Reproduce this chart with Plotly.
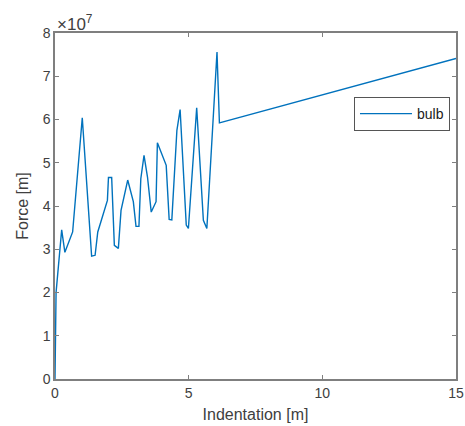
import plotly.graph_objects as go

# Indentation [m] and force (in units of 1e7) along the bulb curve
indentation = [0.0, 0.04, 0.25, 0.37, 0.66, 1.02, 1.37, 1.50, 1.60, 1.96, 2.00, 2.12,
               2.22, 2.37, 2.47, 2.72, 2.93, 3.03, 3.14, 3.21, 3.33, 3.46, 3.60,
               3.78, 3.83, 4.16, 4.27, 4.37, 4.56, 4.68, 4.91, 4.99, 5.30, 5.55,
               5.68, 6.06, 6.15, 15.0]
force_e7 = [0.0, 2.0, 3.45, 2.93, 3.40, 6.04, 2.84, 2.86, 3.40, 4.13, 4.66, 4.66,
            3.09, 3.02, 3.90, 4.60, 4.10, 3.53, 3.53, 4.63, 5.17, 4.67, 3.86,
            4.10, 5.46, 4.94, 3.69, 3.68, 5.75, 6.23, 3.56, 3.48, 6.27, 3.67,
            3.48, 7.56, 5.92, 7.41]
series_name = "bulb"

x_ticks = [0, 5, 10, 15]
y_ticks = [0, 1, 2, 3, 4, 5, 6, 7, 8]
scale = 1e7

force = [v * scale for v in force_e7]

axis_color = "#7f7f7f"
text_color = "#404040"
font_family = "Liberation Sans, Arial, sans-serif"

fig = go.Figure()
fig.add_trace(go.Scatter(
    x=indentation, y=force, mode="lines", name=series_name,
    line=dict(color="#0072BD", width=1.4),
))

fig.update_layout(
    width=465, height=426,
    margin=dict(l=55, r=9, t=33, b=47, autoexpand=False),
    paper_bgcolor="white", plot_bgcolor="white",
    font=dict(family=font_family, size=14, color=text_color),
    showlegend=True,
    legend=dict(
        x=0.985, y=0.815, xanchor="right", yanchor="top",
        bgcolor="white", bordercolor="#555555", borderwidth=1,
        font=dict(size=14, color="#202020"),
        itemwidth=52, tracegroupgap=0,
    ),
    xaxis=dict(
        range=[0, 15], tickvals=x_ticks, ticktext=[str(t) for t in x_ticks],
        showgrid=False, zeroline=False, automargin=False,
        showline=True, linecolor=axis_color, linewidth=1.5, mirror="ticks",
        ticks="inside", ticklen=4, tickcolor=axis_color, tickwidth=1,
        tickfont=dict(size=14, color=text_color),
        title=dict(text="Indentation [m]", font=dict(size=16, color=text_color), standoff=9),
    ),
    yaxis=dict(
        range=[0, 8 * scale], tickvals=[t * scale for t in y_ticks],
        ticktext=[str(t) for t in y_ticks],
        showgrid=False, zeroline=False, automargin=False,
        showline=True, linecolor=axis_color, linewidth=1.5, mirror="ticks",
        ticks="inside", ticklen=4, tickcolor=axis_color, tickwidth=1,
        tickfont=dict(size=14, color=text_color),
        title=dict(text="Force [m]", font=dict(size=16, color=text_color), standoff=10),
    ),
)

# Exponent marker for the force axis
fig.add_annotation(
    xref="paper", yref="paper", x=0.0, y=1.0, xanchor="left", yanchor="bottom",
    text="×10<sup>7</sup>", showarrow=False,
    font=dict(size=17, color=text_color), xshift=0, yshift=-3,
)

fig.write_html("out.html")
